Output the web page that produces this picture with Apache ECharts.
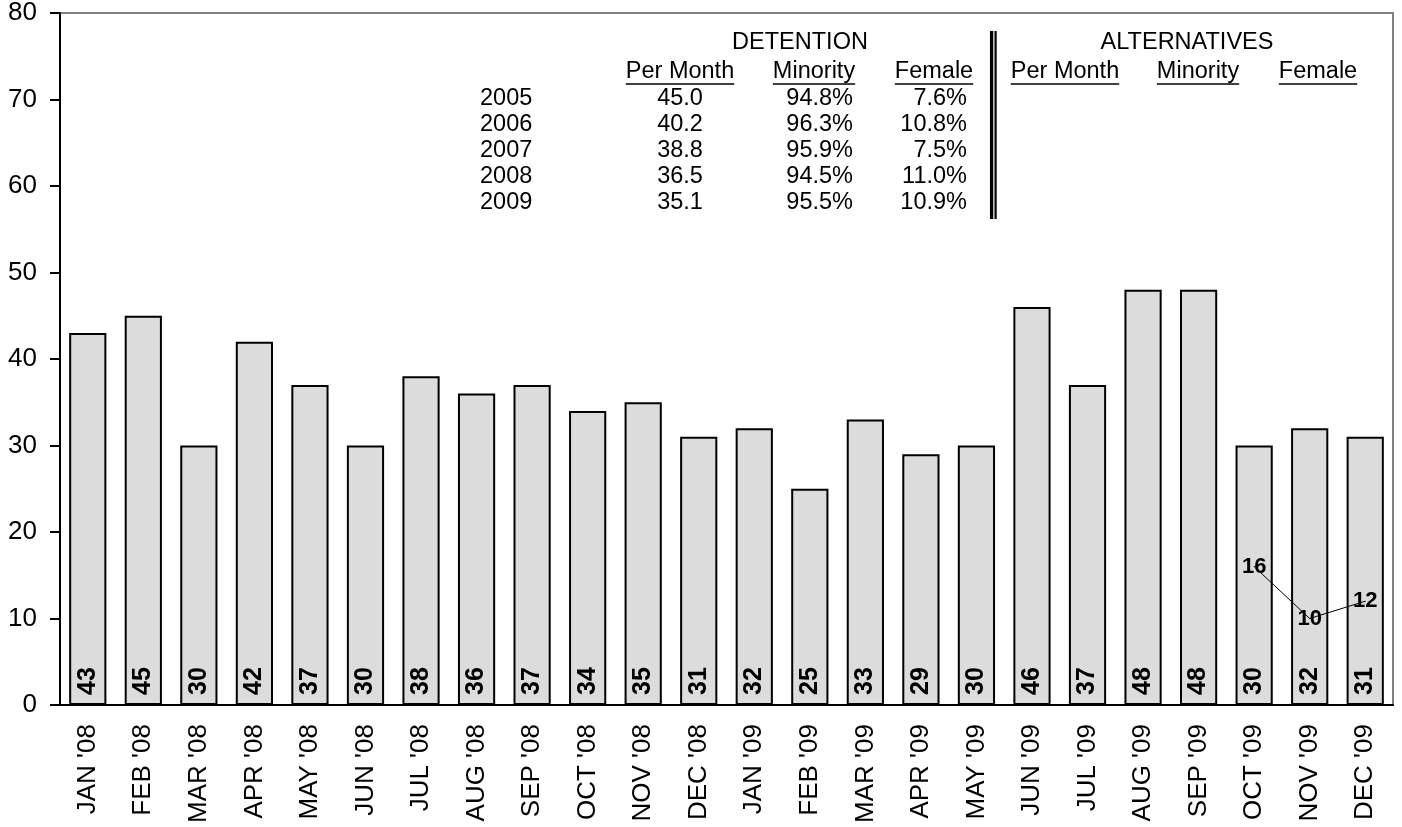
<!DOCTYPE html>
<html>
<head>
<meta charset="utf-8">
<script src="https://cdn.jsdelivr.net/npm/echarts@6/dist/echarts.min.js"></script>
<style>
html,body{margin:0;padding:0;background:#fff;}
#chart{width:1402px;height:827px;}
</style>
</head>
<body>
<div id="chart"></div>
<script>
var categories = ["JAN '08","FEB '08","MAR '08","APR '08","MAY '08","JUN '08","JUL '08","AUG '08","SEP '08","OCT '08","NOV '08","DEC '08","JAN '09","FEB '09","MAR '09","APR '09","MAY '09","JUN '09","JUL '09","AUG '09","SEP '09","OCT '09","NOV '09","DEC '09"];
var detention = [43,45,30,42,37,30,38,36,37,34,35,31,32,25,33,29,30,46,37,48,48,30,32,31];
var alternatives = [null,null,null,null,null,null,null,null,null,null,null,null,null,null,null,null,null,null,null,null,null,16,10,12];
var yTicks = [0,10,20,30,40,50,60,70,80];

var tableYears = ['2005','2006','2007','2008','2009'];
var tablePerMonth = ['45.0','40.2','38.8','36.5','35.1'];
var tableMinority = ['94.8%','96.3%','95.9%','94.5%','95.5%'];
var tableFemale = ['7.6%','10.8%','7.5%','11.0%','10.9%'];
var detHeaders = ['Per Month','Minority','Female'];
var altHeaders = ['Per Month','Minority','Female'];

var FONT = '"Liberation Sans", Arial, sans-serif';
var TFS = 23.5;
var chart = echarts.init(document.getElementById('chart'));

var ctx = document.createElement('canvas').getContext('2d');
ctx.font = TFS + 'px ' + FONT;
function tw(s){ return ctx.measureText(s).width; }

var graphics = [];
function txt(s, x, y, align){
  graphics.push({type:'text', x:x, y:y, style:{text:s, font:TFS + 'px ' + FONT, fill:'#000', textAlign:align, textVerticalAlign:'middle'}});
}
function header(s, cx, y){
  txt(s, cx, y, 'center');
  var w = tw(s);
  graphics.push({type:'line', shape:{x1:cx - w/2, y1:84, x2:cx + w/2, y2:84}, style:{stroke:'#000', lineWidth:1.5}});
}
txt('DETENTION', 800, 43, 'center');
txt('ALTERNATIVES', 1187, 43, 'center');
var detX = [680, 814, 934];
var altX = [1065, 1198, 1318];
for (var i = 0; i < 3; i++) { header(detHeaders[i], detX[i], 72); header(altHeaders[i], altX[i], 72); }
for (var r = 0; r < tableYears.length; r++) {
  var yy = 98.5 + r * 26.1;
  txt(tableYears[r], 480, yy, 'left');
  txt(tablePerMonth[r], 680, yy, 'center');
  txt(tableMinority[r], 853, yy, 'right');
  txt(tableFemale[r], 967, yy, 'right');
}
graphics.push({type:'line', shape:{x1:991.6, y1:31, x2:991.6, y2:219}, style:{stroke:'#000', lineWidth:3.3}});
graphics.push({type:'line', shape:{x1:995.6, y1:31, x2:995.6, y2:219}, style:{stroke:'#000', lineWidth:2.2}});

chart.setOption({
  animation:false,
  backgroundColor:'#fff',
  grid:{left:60, right:9, top:13, bottom:122, show:true, borderColor:'#808080', borderWidth:2, containLabel:false},
  xAxis:{
    type:'category', data:categories,
    axisLine:{lineStyle:{color:'#000', width:2}},
    axisTick:{show:false},
    axisLabel:{rotate:90, color:'#000', fontSize:26, fontFamily:FONT, margin:19, interval:0}
  },
  yAxis:{
    type:'value', min:0, max:80, interval:10,
    axisLine:{show:true, lineStyle:{color:'#000', width:2}},
    axisTick:{show:true, length:10, lineStyle:{color:'#000', width:2}},
    splitLine:{show:false},
    axisLabel:{color:'#000', fontSize:26, fontFamily:FONT, margin:23}
  },
  graphic:graphics,
  series:[
    {
      type:'bar', data:detention, barCategoryGap:'33%',
      itemStyle:{color:'#dcdcdc', borderColor:'#000', borderWidth:2},
      label:{show:true, position:'insideBottom', rotate:90, align:'left', verticalAlign:'middle', distance:10,
        color:'#000', fontSize:25, fontWeight:'bold', fontFamily:FONT}
    },
    {
      type:'line', data:alternatives, connectNulls:false,
      symbol:'circle', symbolSize:1, itemStyle:{color:'#000'},
      lineStyle:{color:'#000', width:1},
      label:{show:true, position:'inside', color:'#000', fontSize:22, fontWeight:'bold', fontFamily:FONT}
    }
  ]
});
</script>
</body>
</html>
